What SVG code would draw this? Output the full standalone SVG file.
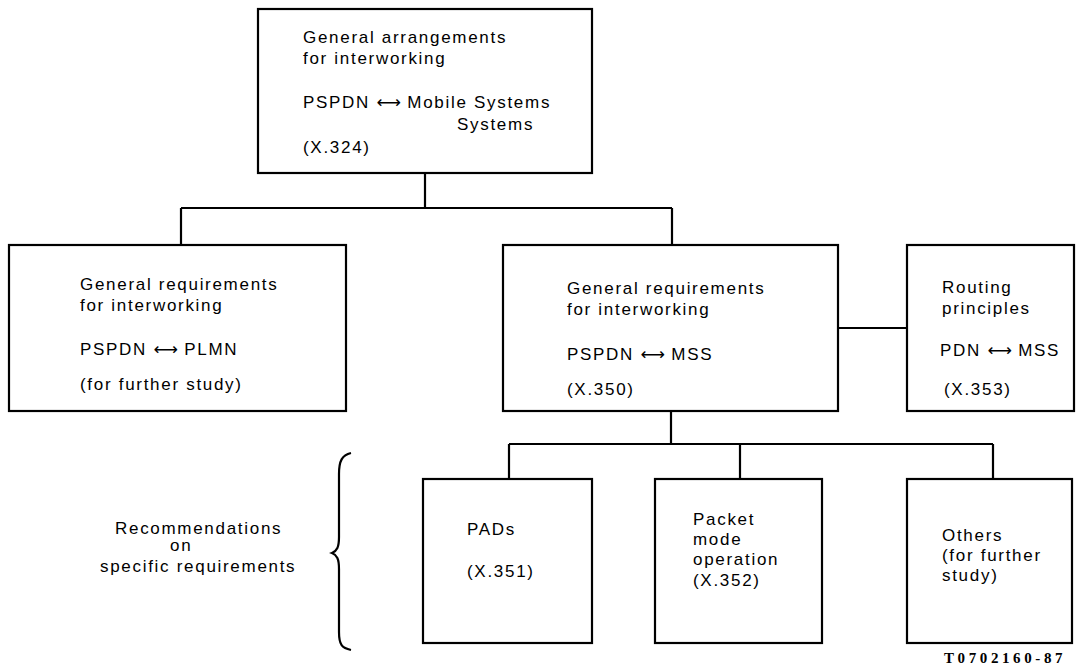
<svg xmlns="http://www.w3.org/2000/svg" width="1080" height="668" viewBox="0 0 1080 668">
<style>
.box{fill:none;stroke:#000;stroke-width:2.2}
.ln{fill:none;stroke:#000;stroke-width:2.2}
text{font-family:"Liberation Sans",Arial,sans-serif;font-size:17px;letter-spacing:1.7px;fill:#000}
.ar{font-family:"DejaVu Sans",sans-serif;letter-spacing:0}
.id{font-family:"Liberation Serif",serif;font-size:15px;font-weight:bold;letter-spacing:3.6px}
</style>
<rect width="1080" height="668" fill="#fff"/>
<g id="connectors">
<path class="ln" d="M425,173 V208 M181,208 H672 M181,208 V245 M672,208 V245"/>
<path class="ln" d="M838,328 H907"/>
<path class="ln" d="M671,411 V444 M509,444 H993 M509,444 V479 M740,444 V479 M993,444 V479"/>
</g>
<g id="n-top">
<rect class="box" x="258" y="9" width="334" height="164"/>
<text x="303" y="43">General arrangements</text>
<text x="303" y="64">for interworking</text>
<text x="303" y="108">PSPDN <tspan class="ar">⟷</tspan> Mobile Systems</text>
<text x="457" y="130">Systems</text>
<text x="303" y="153">(X.324)</text>
</g>
<g id="n-plmn">
<rect class="box" x="9" y="245" width="337" height="166"/>
<text x="80" y="290">General requirements</text>
<text x="80" y="311">for interworking</text>
<text x="80" y="355">PSPDN <tspan class="ar">⟷</tspan> PLMN</text>
<text x="80" y="390">(for further study)</text>
</g>
<g id="n-mss">
<rect class="box" x="503" y="245" width="335" height="166"/>
<text x="567" y="294">General requirements</text>
<text x="567" y="315">for interworking</text>
<text x="567" y="360">PSPDN <tspan class="ar">⟷</tspan> MSS</text>
<text x="567" y="395">(X.350)</text>
</g>
<g id="n-routing">
<rect class="box" x="907" y="245" width="167" height="166"/>
<text x="942" y="293">Routing</text>
<text x="942" y="314">principles</text>
<text x="940" y="356">PDN <tspan class="ar">⟷</tspan> MSS</text>
<text x="944" y="395">(X.353)</text>
</g>
<g id="n-pads">
<rect class="box" x="423" y="479" width="169" height="164"/>
<text x="467" y="535">PADs</text>
<text x="467" y="577">(X.351)</text>
</g>
<g id="n-packet">
<rect class="box" x="655" y="479" width="167" height="164"/>
<text x="693" y="525">Packet</text>
<text x="693" y="545">mode</text>
<text x="693" y="565">operation</text>
<text x="693" y="586">(X.352)</text>
</g>
<g id="n-others">
<rect class="box" x="907" y="479" width="165" height="164"/>
<text x="942" y="541">Others</text>
<text x="942" y="561">(for further</text>
<text x="942" y="581">study)</text>
</g>
<g id="n-recs">
<text x="115" y="534">Recommendations</text>
<text x="170" y="551">on</text>
<text x="100" y="572">specific requirements</text>
<path class="ln" d="M351,453 C342,455 339,461 339,474 L339,537 C339,547 337,551 332,553 C337,555 339,559 339,569 L339,632 C339,645 342,648 351,650"/>
</g>
<text class="id" x="944" y="663">T0702160-87</text>
</svg>
